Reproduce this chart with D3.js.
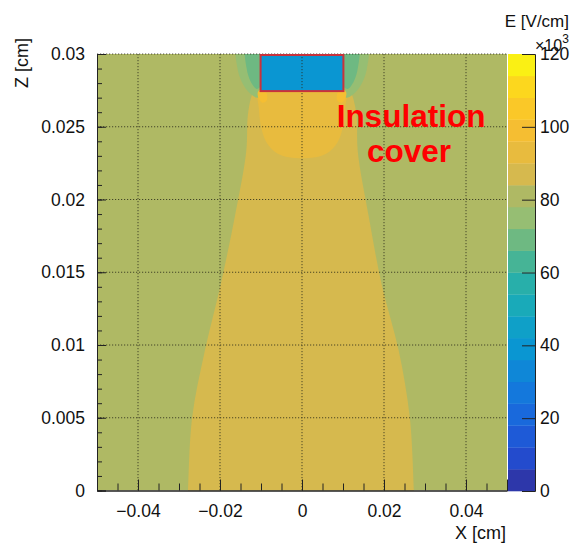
<!DOCTYPE html>
<head>
  <meta charset="utf-8">
  <script src="https://unpkg.com/d3@7/dist/d3.min.js"></script>
  <style>
    body { margin:0; background:#fff; }
    text { font-family: "Liberation Sans", Arial, sans-serif; fill:#111; }
  </style>
</head>
<body>
  <svg width="573" height="543"></svg>
  <script>
    // colour bar: 20 contour levels, 0..120 (x10^3 V/cm), colours bottom -> top
    var levelRange = [0, 120];
    var bandColors = [
      "#2d37aa", "#234bcd", "#1e5ad7", "#1969dc", "#1478dc",
      "#0f87d7", "#0a96d2", "#0fa0c8", "#19aab9", "#28afaa",
      "#46b496", "#6eb982", "#96be73", "#afb964", "#d6b94e",
      "#e8bb3e", "#f5be32", "#fac828", "#fcd71e", "#faf014"
    ];
    var colorTicks = [0, 20, 40, 60, 80, 100, 120];
    var xTicks = [-0.04, -0.02, 0, 0.02, 0.04];
    var xTickLabels = ["\u22120.04", "\u22120.02", "0", "0.02", "0.04"];
    var zTicks = [0, 0.005, 0.01, 0.015, 0.02, 0.025, 0.03];
    var zTickLabels = ["0", "0.005", "0.01", "0.015", "0.02", "0.025", "0.03"];

    // field level (x10^3 V/cm) of each region
    var backgroundE = 81, coneE = 87, bulbE = 93, spotE = 99;
    var lobeOuterE = 75, lobeInnerE = 69, coverE = 39;

    // region outlines, [x cm, z cm]
    var coneOutline = [[-0.0279,-0.0006],[-0.0278,0],[-0.0268,0.005],[-0.0237,0.0096],[-0.0198,0.0142],
      [-0.0164,0.0188],[-0.0136,0.0233],[-0.0132,0.0258],[-0.0122,0.0272],[-0.0100,0.0285],
      [0.0100,0.0285],[0.0122,0.0272],[0.0133,0.0258],[0.0136,0.0233],[0.0163,0.0188],
      [0.0194,0.0142],[0.0236,0.0096],[0.0263,0.005],[0.0273,0],[0.0274,-0.0006]];
    var bulbOutline = [[-0.0104,0.0285],[-0.0105,0.0262],[-0.0099,0.0249],[-0.0086,0.0239],[-0.0062,0.0232],
      [-0.0032,0.0229],[0,0.02283],[0.0032,0.0229],[0.0062,0.0232],[0.0086,0.0239],
      [0.0099,0.0249],[0.0105,0.0262],[0.0104,0.0285]];
    var lobeOuterLeft = [[-0.0158,0.0306],[-0.0158,0.0291],[-0.0147,0.0281],[-0.0127,0.0273],[-0.0108,0.0270],[-0.0098,0.0277],[-0.0098,0.0306]];
    var lobeOuterRight = [[0.0159,0.0306],[0.0159,0.0291],[0.0148,0.0281],[0.0128,0.0273],[0.0108,0.0270],[0.0098,0.0277],[0.0098,0.0306]];
    var lobeInnerLeft = [[-0.0136,0.0306],[-0.0135,0.0290],[-0.0125,0.0281],[-0.0110,0.0276],[-0.0098,0.0279],[-0.0098,0.0306]];
    var lobeInnerRight = [[0.0137,0.0306],[0.0136,0.0290],[0.0126,0.0281],[0.0111,0.0276],[0.0098,0.0279],[0.0098,0.0306]];
    var spotLeft = [[-0.0108,0.02735],[-0.0100,0.0276],[-0.0087,0.02735],[-0.0086,0.0268],[-0.0096,0.02665],[-0.0105,0.0269]];
    var spotRight = [[0.0108,0.02735],[0.0100,0.0276],[0.0087,0.02735],[0.0086,0.0268],[0.0096,0.02665],[0.0105,0.0269]];
    var coverX = [-0.0101, 0.0101], coverZ = [0.02745, 0.0300];

    var svg = d3.select("svg");
    var x = d3.scaleLinear().domain([-0.05, 0.05]).range([97, 507]);
    var y = d3.scaleLinear().domain([0, 0.03]).range([490.5, 54]);
    var color = d3.scaleQuantize().domain(levelRange).range(bandColors);

    svg.append("clipPath").attr("id", "plotclip")
      .append("rect").attr("x", 97).attr("y", 54).attr("width", 410).attr("height", 436.5);

    var map = svg.append("g").attr("clip-path", "url(#plotclip)");
    map.append("rect")
      .attr("x", x(-0.05)).attr("y", y(0.03))
      .attr("width", x(0.05) - x(-0.05)).attr("height", y(0) - y(0.03))
      .attr("fill", color(backgroundE));

    var openLine = d3.line().x(function (d) { return x(d[0]); }).y(function (d) { return y(d[1]); })
      .curve(d3.curveCatmullRom.alpha(0.5));
    var closedLine = d3.line().x(function (d) { return x(d[0]); }).y(function (d) { return y(d[1]); })
      .curve(d3.curveCatmullRomClosed.alpha(0.5));

    map.append("path").attr("d", openLine(coneOutline) + "Z").attr("fill", color(coneE));
    map.append("path").attr("d", closedLine(bulbOutline)).attr("fill", color(bulbE));
    [lobeOuterLeft, lobeOuterRight].forEach(function (p) {
      map.append("path").attr("d", closedLine(p)).attr("fill", color(lobeOuterE));
    });
    [lobeInnerLeft, lobeInnerRight].forEach(function (p) {
      map.append("path").attr("d", closedLine(p)).attr("fill", color(lobeInnerE));
    });
    [spotLeft, spotRight].forEach(function (p) {
      map.append("path").attr("d", closedLine(p)).attr("fill", color(spotE));
    });
    map.append("rect")
      .attr("x", x(coverX[0])).attr("y", y(coverZ[1]))
      .attr("width", x(coverX[1]) - x(coverX[0])).attr("height", y(coverZ[0]) - y(coverZ[1]))
      .attr("fill", color(coverE));

    // dotted grid
    var grid = svg.append("g").attr("stroke", "#2a2a1a").attr("stroke-width", 1)
      .attr("stroke-dasharray", "1.2,1.8").attr("opacity", 0.8);
    grid.selectAll(".gx").data(xTicks).enter().append("line")
      .attr("x1", function (d) { return x(d); }).attr("x2", function (d) { return x(d); })
      .attr("y1", y(0.03)).attr("y2", y(0));
    grid.selectAll(".gy").data(zTicks.slice(1)).enter().append("line")
      .attr("y1", function (d) { return y(d); }).attr("y2", function (d) { return y(d); })
      .attr("x1", x(-0.05)).attr("x2", x(0.05));

    // cover outline
    svg.append("rect")
      .attr("x", x(coverX[0])).attr("y", y(coverZ[1]) + 1)
      .attr("width", x(coverX[1]) - x(coverX[0])).attr("height", y(coverZ[0]) - y(coverZ[1]) - 1)
      .attr("fill", "none").attr("stroke", "#c8323c").attr("stroke-width", 2);

    // axes
    var xAxis = d3.axisBottom(x).tickValues(d3.range(-0.045, 0.0501, 0.005)).tickSize(-7).tickFormat("");
    svg.append("g").attr("transform", "translate(0," + y(0) + ")").call(xAxis);
    var xMajor = d3.axisBottom(x).tickValues(xTicks).tickSize(-11).tickPadding(14)
      .tickFormat(function (d, i) { return xTickLabels[i]; });
    svg.append("g").attr("class", "xmaj").attr("transform", "translate(0," + y(0) + ")").call(xMajor);

    var yAxis = d3.axisLeft(y).tickValues(d3.range(0.001, 0.0301, 0.001)).tickSize(-5).tickFormat("");
    svg.append("g").attr("transform", "translate(" + x(-0.05) + ",0)").call(yAxis);
    var yMajor = d3.axisLeft(y).tickValues(zTicks).tickSize(-9).tickPadding(12)
      .tickFormat(function (d, i) { return zTickLabels[i]; });
    svg.append("g").attr("class", "ymaj").attr("transform", "translate(" + x(-0.05) + ",0)").call(yMajor);

    svg.selectAll(".domain").attr("stroke", "#222");
    svg.selectAll(".tick line").attr("stroke", "#222");
    svg.selectAll(".tick text").attr("font-size", 17.5).attr("font-family", "Liberation Sans, Arial, sans-serif").attr("fill", "#111");

    // colour bar
    var cbY = d3.scaleLinear().domain(levelRange).range([491, 54]);
    var step = (levelRange[1] - levelRange[0]) / bandColors.length;
    svg.append("g").selectAll("rect").data(bandColors).enter().append("rect")
      .attr("x", 508).attr("width", 27)
      .attr("y", function (d, i) { return cbY((i + 1) * step); })
      .attr("height", function (d, i) { return cbY(i * step) - cbY((i + 1) * step) + 0.3; })
      .attr("fill", function (d) { return d; });
    var cbAxis = d3.axisRight(cbY).tickValues(colorTicks).tickSize(-13).tickPadding(5);
    var cb = svg.append("g").attr("transform", "translate(535,0)").call(cbAxis);
    cb.select(".domain").attr("stroke", "#222");
    cb.selectAll(".tick line").attr("stroke", "#222");
    cb.selectAll(".tick text").attr("font-size", 17.5).attr("fill", "#111");

    // titles
    svg.append("text").attr("x", 569).attr("y", 27).attr("text-anchor", "end")
      .attr("font-family", "DejaVu Sans").attr("font-size", 17).text("E [V/cm]");
    var mult = svg.append("text").attr("x", 535).attr("y", 51).attr("font-size", 16);
    mult.append("tspan").text("\u00d710");
    mult.append("tspan").attr("dy", -8).attr("font-size", 12).text("3");
    svg.append("text").attr("x", 506).attr("y", 539).attr("text-anchor", "end")
      .attr("font-size", 18).text("X [cm]");
    svg.append("text").attr("transform", "translate(28,38) rotate(-90)").attr("text-anchor", "end")
      .attr("font-size", 18).text("Z [cm]");

    // annotation
    var note = svg.append("g").attr("font-family", "Noto Sans CJK JP, Noto Sans, sans-serif")
      .attr("font-weight", "bold").attr("font-size", 31.5).attr("text-anchor", "middle");
    note.append("text").attr("x", 411).attr("y", 127).style("fill", "#ff0000").text("Insulation");
    note.append("text").attr("x", 409).attr("y", 162).style("fill", "#ff0000").text("cover");
  </script>
</body>
